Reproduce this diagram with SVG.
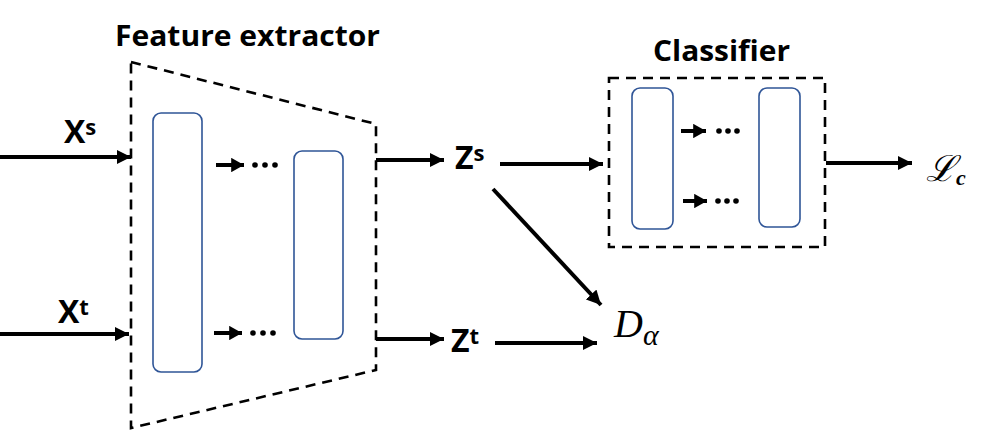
<svg xmlns="http://www.w3.org/2000/svg" width="993" height="432" viewBox="0 0 993 432">
<defs>
<marker id="ah" markerWidth="3.6" markerHeight="3.6" refX="3.6" refY="1.8" orient="auto" markerUnits="strokeWidth" viewBox="0 0 3.6 3.6">
<path d="M0,0 L3.6,1.8 L0,3.6 z" fill="#000"/>
</marker>
<marker id="ahs" markerWidth="3.2" markerHeight="3.6" refX="3.2" refY="1.8" orient="auto" markerUnits="strokeWidth" viewBox="0 0 3.2 3.6">
<path d="M0,0 L3.2,1.8 L0,3.6 z" fill="#000"/>
</marker>
<style>
.lbl{font-family:"Open Sans",Lato,"Liberation Sans",sans-serif;font-weight:bold;fill:#000}
.dash{fill:none;stroke:#000;stroke-width:2.6;stroke-dasharray:10 7}
.blk{fill:#fff;stroke:#2F5597;stroke-width:1.6}
.conn{fill:none;stroke:#000;stroke-width:4;marker-end:url(#ah)}
.sm{fill:none;stroke:#000;stroke-width:4;marker-end:url(#ahs)}
.dot{fill:#000}
.math{font-family:"Liberation Serif","DejaVu Serif",serif;font-style:italic;fill:#000}
</style>
</defs>
<rect width="993" height="432" fill="#fff"/>

<g id="feature-extractor">
<text class="lbl" x="115" y="46" font-size="28" textLength="265" lengthAdjust="spacingAndGlyphs">Feature extractor</text>
<path class="dash" d="M131,62 L376,124 L376,370 L131,428 Z"/>
<rect class="blk" x="153" y="113" width="49" height="259" rx="8"/>
<rect class="blk" x="294" y="151" width="49" height="188" rx="8"/>
<line class="sm" x1="216" y1="165" x2="244" y2="165"/>
<circle class="dot" cx="255" cy="165" r="2.8"/><circle class="dot" cx="265" cy="165" r="2.8"/><circle class="dot" cx="275" cy="165" r="2.8"/>
<line class="sm" x1="214" y1="333" x2="242" y2="333"/>
<circle class="dot" cx="253" cy="333" r="2.8"/><circle class="dot" cx="263" cy="333" r="2.8"/><circle class="dot" cx="273" cy="333" r="2.8"/>
</g>

<g id="classifier">
<text class="lbl" x="653" y="61" font-size="29" textLength="137" lengthAdjust="spacingAndGlyphs">Classifier</text>
<rect class="dash" x="609" y="78" width="216" height="169"/>
<rect class="blk" x="632" y="88" width="41" height="141" rx="8"/>
<rect class="blk" x="759" y="88" width="41" height="139" rx="8"/>
<line class="sm" x1="681" y1="131" x2="706" y2="131"/>
<circle class="dot" cx="719" cy="131" r="2.8"/><circle class="dot" cx="728" cy="131" r="2.8"/><circle class="dot" cx="737" cy="131" r="2.8"/>
<line class="sm" x1="683" y1="201" x2="707" y2="201"/>
<circle class="dot" cx="718" cy="201" r="2.8"/><circle class="dot" cx="727" cy="201" r="2.8"/><circle class="dot" cx="736" cy="201" r="2.8"/>
</g>

<g id="xs"><text class="lbl" x="64" y="143" font-size="32">X<tspan font-size="22" dy="-8">s</tspan></text></g>
<g id="xt"><text class="lbl" x="58" y="323" font-size="32">X<tspan font-size="22" dy="-8">t</tspan></text></g>
<g id="zs"><text class="lbl" x="455" y="169" font-size="32">Z<tspan font-size="22" dy="-8">s</tspan></text></g>
<g id="zt"><text class="lbl" x="451" y="352" font-size="32">Z<tspan font-size="22" dy="-8">t</tspan></text></g>
<g id="d-alpha"><text class="math" x="614" y="337" font-size="40">D<tspan font-size="30" dy="8">α</tspan></text></g>
<g id="l-c"><text class="math" x="926" y="181" font-size="36" font-family="'DejaVu Serif',serif">ℒ<tspan font-size="22" dy="4" font-weight="bold">c</tspan></text></g>

<g id="connectors">
<line class="conn" x1="0" y1="157" x2="131" y2="157"/>
<line class="conn" x1="0" y1="334" x2="129" y2="334"/>
<line class="conn" x1="376" y1="160" x2="444" y2="160"/>
<line class="conn" x1="376" y1="339" x2="444" y2="339"/>
<line class="conn" x1="500" y1="164" x2="603" y2="164"/>
<line class="conn" x1="495" y1="343" x2="597" y2="343"/>
<line class="conn" x1="493" y1="189" x2="601" y2="305"/>
<line class="conn" x1="826" y1="163" x2="912" y2="163"/>
</g>
</svg>
